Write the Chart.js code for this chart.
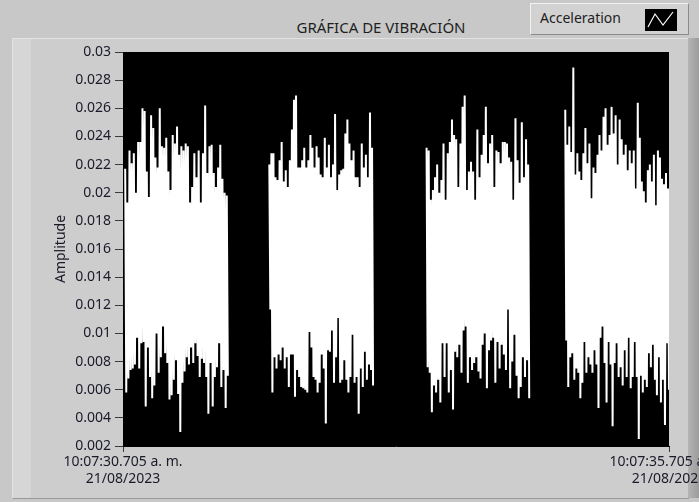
<!DOCTYPE html>
<html>
<head>
<meta charset="utf-8">
<script src="https://cdn.jsdelivr.net/npm/chart.js@4.4.1/dist/chart.umd.min.js"></script>
<style>
  html, body { margin: 0; padding: 0; }
  body {
    width: 699px; height: 502px; overflow: hidden; position: relative;
    background: #c8c8c8; font-family: "Noto Sans", sans-serif;
  }
  .panel {
    position: absolute; left: 12px; top: 38px; width: 676px; height: 459px;
    background: #cdcdcd; border-top: 1px solid #e2e2e2; border-left: 1px solid #e2e2e2;
    border-bottom: 1px solid #9a9a9a;
  }
  .panel .band { position: absolute; left: 0; top: 0; width: 18px; height: 100%; background: #d6d6d6; }
  .edge { position: absolute; left: 688px; top: 38px; width: 11px; height: 460px;
    background: linear-gradient(to right, #b4b4b4, #9c9c9c); }
  .title {
    position: absolute; left: 230px; width: 302px; top: 17px; text-align: center;
    font-size: 15px; color: #1e1e1e;
  }
  .legend {
    position: absolute; left: 530px; top: 3px; width: 159px; height: 32px;
    background: #d2d2d2; border-top: 1px solid #f2f2f2; border-left: 1px solid #f2f2f2;
    border-right: 1px solid #8c8c8c; border-bottom: 1px solid #8c8c8c; box-sizing: border-box;
  }
  .legend span { position: absolute; left: 9px; top: 4px; font-size: 14px; color: #1e1e1e; }
  .legend svg { position: absolute; left: 114px; top: 5px; }
  canvas { position: absolute; left: 0; top: 0; }
</style>
</head>
<body>
<div class="panel"><div class="band"></div></div>
<div class="edge"></div>
<div class="title">GRÁFICA DE VIBRACIÓN</div>
<div class="legend">
  <span>Acceleration</span>
  <svg width="32" height="22"><rect x="0" y="0" width="32" height="22" fill="#000"/>
    <polyline points="3,18 10,5 18,16 28,3" fill="none" stroke="#fff" stroke-width="1.2"/></svg>
</div>
<canvas id="vibracion" width="699" height="502"></canvas>
<script>
// tiempos (s) desde 10:07:30.705 donde empieza y termina cada tramo de datos
const burstStart = [0.02, 1.34, 2.78, 4.05];
const burstEnd = [0.96, 2.29, 3.72, 5.0];

// picos superiores e inferiores de cada tramo
const burst1Hi = [0.0217, 0.0193, 0.0230, 0.0221, 0.0228, 0.0200, 0.0236, 0.0236, 0.0260, 0.0258, 0.0215, 0.0197, 0.0255, 0.0246, 0.0225, 0.0218, 0.0260, 0.0233, 0.0232, 0.0239, 0.0215, 0.0202, 0.0241, 0.0235, 0.0247, 0.0227, 0.0233, 0.0230, 0.0235, 0.0233, 0.0193, 0.0204, 0.0228, 0.0211, 0.0230, 0.0193, 0.0228, 0.0262, 0.0214, 0.0233, 0.0234, 0.0214, 0.0204, 0.0218, 0.0234, 0.0210, 0.0200, 0.0198];
const burst1Lo = [0.0058, 0.0068, 0.0074, 0.0075, 0.0078, 0.0097, 0.0075, 0.0093, 0.0094, 0.0048, 0.0090, 0.0069, 0.0054, 0.0063, 0.0100, 0.0072, 0.0083, 0.0105, 0.0086, 0.0079, 0.0053, 0.0056, 0.0067, 0.0081, 0.0057, 0.0030, 0.0065, 0.0073, 0.0083, 0.0078, 0.0090, 0.0079, 0.0093, 0.0084, 0.0069, 0.0082, 0.0079, 0.0069, 0.0043, 0.0079, 0.0048, 0.0069, 0.0076, 0.0093, 0.0062, 0.0074, 0.0047, 0.0070];
const burst2Hi = [0.0220, 0.0228, 0.0228, 0.0211, 0.0209, 0.0223, 0.0236, 0.0208, 0.0216, 0.0204, 0.0223, 0.0245, 0.0266, 0.0269, 0.0218, 0.0218, 0.0223, 0.0232, 0.0218, 0.0223, 0.0241, 0.0232, 0.0218, 0.0233, 0.0225, 0.0213, 0.0211, 0.0239, 0.0218, 0.0234, 0.0211, 0.0220, 0.0256, 0.0202, 0.0213, 0.0216, 0.0217, 0.0242, 0.0252, 0.0235, 0.0223, 0.0230, 0.0211, 0.0211, 0.0204, 0.0235, 0.0218, 0.0227, 0.0211, 0.0257, 0.0232];
const burst2Lo = [0.0117, 0.0058, 0.0083, 0.0075, 0.0085, 0.0081, 0.0090, 0.0075, 0.0083, 0.0062, 0.0085, 0.0085, 0.0055, 0.0074, 0.0069, 0.0062, 0.0061, 0.0060, 0.0058, 0.0101, 0.0090, 0.0069, 0.0067, 0.0058, 0.0065, 0.0085, 0.0075, 0.0036, 0.0088, 0.0087, 0.0102, 0.0065, 0.0083, 0.0111, 0.0065, 0.0067, 0.0081, 0.0067, 0.0058, 0.0069, 0.0099, 0.0065, 0.0069, 0.0043, 0.0075, 0.0062, 0.0087, 0.0067, 0.0078, 0.0074, 0.0063];
const burst3Hi = [0.0232, 0.0230, 0.0195, 0.0202, 0.0211, 0.0220, 0.0200, 0.0209, 0.0235, 0.0195, 0.0228, 0.0236, 0.0252, 0.0241, 0.0238, 0.0204, 0.0235, 0.0261, 0.0269, 0.0202, 0.0215, 0.0222, 0.0215, 0.0195, 0.0245, 0.0211, 0.0227, 0.0241, 0.0261, 0.0221, 0.0235, 0.0241, 0.0204, 0.0230, 0.0229, 0.0221, 0.0236, 0.0236, 0.0235, 0.0225, 0.0222, 0.0195, 0.0253, 0.0223, 0.0207, 0.0250, 0.0211, 0.0238, 0.0220];
const burst3Lo = [0.0076, 0.0072, 0.0044, 0.0063, 0.0058, 0.0067, 0.0051, 0.0093, 0.0069, 0.0093, 0.0058, 0.0074, 0.0046, 0.0087, 0.0083, 0.0092, 0.0072, 0.0102, 0.0105, 0.0065, 0.0083, 0.0074, 0.0079, 0.0083, 0.0073, 0.0068, 0.0092, 0.0100, 0.0061, 0.0088, 0.0095, 0.0097, 0.0065, 0.0094, 0.0075, 0.0092, 0.0085, 0.0074, 0.0117, 0.0061, 0.0080, 0.0099, 0.0070, 0.0054, 0.0062, 0.0083, 0.0069, 0.0081, 0.0054];
const burst4Hi = [0.0259, 0.0234, 0.0247, 0.0229, 0.0289, 0.0213, 0.0228, 0.0215, 0.0209, 0.0228, 0.0246, 0.0221, 0.0235, 0.0196, 0.0218, 0.0214, 0.0227, 0.0241, 0.0230, 0.0254, 0.0260, 0.0234, 0.0241, 0.0261, 0.0242, 0.0255, 0.0220, 0.0252, 0.0238, 0.0227, 0.0234, 0.0216, 0.0230, 0.0221, 0.0230, 0.0203, 0.0264, 0.0239, 0.0208, 0.0201, 0.0193, 0.0216, 0.0220, 0.0208, 0.0227, 0.0191, 0.0230, 0.0225, 0.0210, 0.0206, 0.0214, 0.0203];
const burst4Lo = [0.0095, 0.0062, 0.0083, 0.0086, 0.0067, 0.0075, 0.0072, 0.0054, 0.0065, 0.0094, 0.0072, 0.0083, 0.0078, 0.0072, 0.0088, 0.0078, 0.0047, 0.0097, 0.0105, 0.0079, 0.0051, 0.0094, 0.0078, 0.0034, 0.0079, 0.0093, 0.0069, 0.0076, 0.0063, 0.0088, 0.0069, 0.0097, 0.0061, 0.0069, 0.0094, 0.0069, 0.0025, 0.0070, 0.0058, 0.0067, 0.0062, 0.0086, 0.0076, 0.0092, 0.0067, 0.0056, 0.0083, 0.0051, 0.0067, 0.0035, 0.0093, 0.0060];

const yMin = 0.002;
const yMax = 0.03;
const yStep = 0.002;
const xTickValues = [0, 5];
const xTickLabels = [["10:07:30.705 a. m.", "21/08/2023"], ["10:07:35.705 a. m.", "21/08/2023"]];

const bursts = [[burst1Hi, burst1Lo], [burst2Hi, burst2Lo], [burst3Hi, burst3Lo], [burst4Hi, burst4Lo]];

// alterna pico alto / pico bajo a lo largo de cada tramo; un null corta la línea entre tramos
const points = [];
bursts.forEach(([hi, lo], b) => {
  const t0 = burstStart[b], t1 = burstEnd[b];
  const n = Math.min(hi.length, lo.length);
  const total = 2 * n - 1;
  for (let i = 0; i < n; i++) {
    points.push({ x: t0 + (t1 - t0) * (2 * i) / total, y: hi[i] });
    points.push({ x: t0 + (t1 - t0) * (2 * i + 1) / total, y: lo[i] });
  }
  points.push({ x: t1 + 0.01, y: null });
});

const fondoNegro = {
  id: 'fondoNegro',
  beforeDraw(chart) {
    const { ctx, chartArea: a } = chart;
    ctx.save();
    ctx.fillStyle = '#000';
    ctx.fillRect(a.left, a.top, a.right - a.left, a.bottom - a.top);
    ctx.restore();
  }
};

const fuente = { family: "'Noto Sans', sans-serif", size: 14 };

new Chart(document.getElementById('vibracion'), {
  type: 'line',
  data: {
    datasets: [{
      label: 'Acceleration',
      data: points,
      borderColor: '#ffffff',
      borderWidth: 2,
      borderJoinStyle: 'bevel',
      pointRadius: 0,
      tension: 0,
      spanGaps: false
    }]
  },
  options: {
    responsive: false,
    animation: false,
    devicePixelRatio: 1,
    layout: { padding: { left: 0, top: 52, right: 30, bottom: 0 } },
    plugins: { legend: { display: false }, tooltip: { enabled: false } },
    scales: {
      x: {
        type: 'linear',
        min: 0,
        max: 5,
        afterBuildTicks: (scale) => { scale.ticks = xTickValues.map(v => ({ value: v })); },
        afterFit: (scale) => { scale.height = 56; scale.paddingLeft = 0; scale.paddingRight = 0; },
        ticks: {
          autoSkip: false,
          maxRotation: 0,
          padding: 2,
          color: '#1a1a2a',
          font: fuente,
          callback: (v) => xTickLabels[xTickValues.indexOf(v)]
        },
        grid: { drawOnChartArea: false, tickLength: 6, color: '#3a3a3a' },
        border: { color: '#000' }
      },
      y: {
        min: yMin,
        max: yMax,
        afterFit: (scale) => { scale.width = 123; scale.paddingTop = 0; scale.paddingBottom = 0; },
        ticks: {
          stepSize: yStep,
          padding: 4,
          color: '#1a1a2a',
          font: fuente,
          callback: (v) => String(Number(v.toFixed(4)))
        },
        grid: { drawOnChartArea: false, tickLength: 8, color: '#3a3a3a' },
        border: { color: '#000' },
        title: {
          display: true,
          text: 'Amplitude',
          color: '#1a1a2a',
          font: fuente,
          padding: { top: 53, bottom: 0 }
        }
      }
    }
  },
  plugins: [fondoNegro]
});
</script>
</body>
</html>
